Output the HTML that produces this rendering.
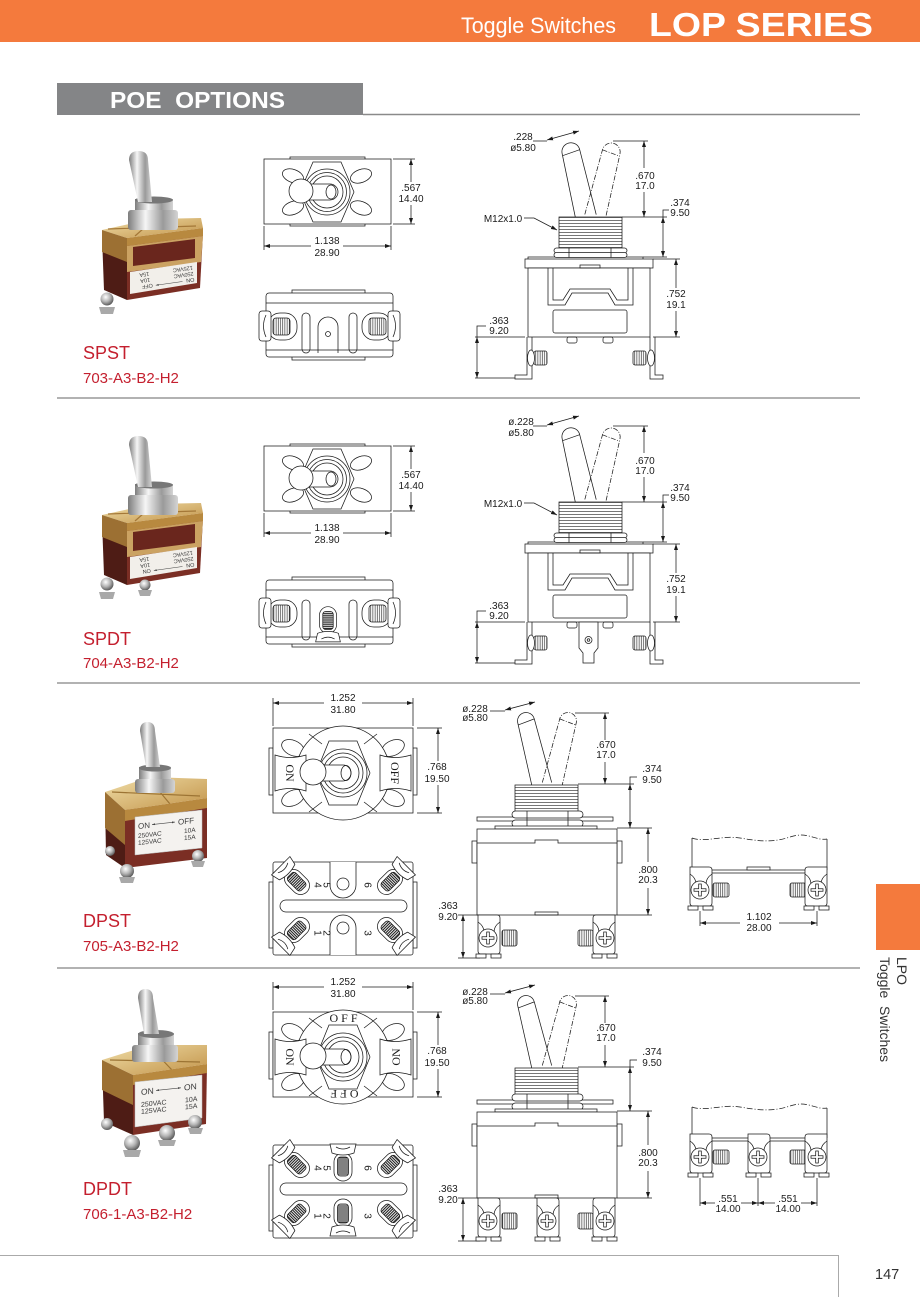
<!DOCTYPE html>
<html><head><meta charset="utf-8"><title>LOP Series - POE Options</title>
<style>
html,body{margin:0;padding:0;background:#fff;}
body{width:920px;height:1297px;overflow:hidden;}
svg{display:block;}
.d{font-family:"Liberation Sans",sans-serif;font-size:10px;fill:#1a1a1a;text-anchor:middle;}
.ln{stroke:#1a1a1a;stroke-width:0.75;fill:none;}
.lbl{font-family:"Liberation Sans",sans-serif;fill:#c41f2e;}
.sr{font-family:"Liberation Serif",serif;font-size:12px;fill:#1a1a1a;text-anchor:middle;}
.pl{font-family:"Liberation Sans",sans-serif;fill:#3a3a3a;}
</style></head><body>
<svg width="920" height="1297" viewBox="0 0 920 1297" xmlns="http://www.w3.org/2000/svg">
<defs>
<marker id="ar" viewBox="0 0 6 4" refX="6" refY="2" markerWidth="6" markerHeight="4" markerUnits="userSpaceOnUse" orient="auto-start-reverse"><path d="M0,0L6,2L0,4z" fill="#1a1a1a" stroke="none"/></marker>
<marker id="ar2" viewBox="0 0 6 4" refX="6" refY="2" markerWidth="3" markerHeight="2" markerUnits="userSpaceOnUse" orient="auto-start-reverse"><path d="M0,0L6,2L0,4z" fill="#444" stroke="none"/></marker>
<linearGradient id="sil" x1="0" x2="1" y1="0" y2="0"><stop offset="0" stop-color="#7d7d7d"/><stop offset="0.35" stop-color="#f6f6f6"/><stop offset="0.7" stop-color="#9a9a9a"/><stop offset="1" stop-color="#d4d4d4"/></linearGradient>
<radialGradient id="ball" cx="0.4" cy="0.35" r="0.7"><stop offset="0" stop-color="#fff"/><stop offset="0.5" stop-color="#b5b5b5"/><stop offset="1" stop-color="#4d4d4d"/></radialGradient>
<linearGradient id="gold" x1="0" y1="0" x2="1" y2="1"><stop offset="0" stop-color="#f0dea8"/><stop offset="1" stop-color="#c29349"/></linearGradient>
<pattern id="hl" width="8" height="3" patternUnits="userSpaceOnUse"><rect width="8" height="3" fill="#fff"/><line x1="0" y1="1.5" x2="8" y2="1.5" stroke="#1a1a1a" stroke-width="0.6"/></pattern>
<pattern id="vl" width="2.2" height="8" patternUnits="userSpaceOnUse"><rect width="2.2" height="8" fill="#fff"/><line x1="1.1" y1="0" x2="1.1" y2="8" stroke="#1a1a1a" stroke-width="0.6"/></pattern>
<pattern id="th" width="6" height="2" patternUnits="userSpaceOnUse"><rect width="6" height="2" fill="#fff"/><line x1="0" y1="1" x2="6" y2="1" stroke="#1a1a1a" stroke-width="1.1"/></pattern>

<g id="st" stroke="#1a1a1a" stroke-width="0.75">
 <path d="M-10,-23H9Q12,-23 12,-20V13Q12,16 9,16H-7Q-10,16 -10,13Z" fill="#fff"/>
 <path d="M-12,16H-2V20H-12ZM3,16H13V20H3Z" fill="#fff"/>
 <path d="M-10,-16Q-4,-12 -4,-6M12,-16Q6,-12 6,-6" fill="none"/>
 <circle r="9" fill="#fff"/>
 <path d="M-1.3,-6H1.3V-1.3H6V1.3H1.3V6H-1.3V1.3H-6V-1.3H-1.3Z" fill="#fff"/>
</g>
<g id="bt" stroke="#1a1a1a" stroke-width="0.75">
 <rect x="-9" y="-14" width="18" height="28" rx="9" fill="#fff"/>
 <rect x="-5.5" y="-10" width="11" height="19" rx="3" fill="url(#th)"/>
 <path d="M-13,-23H13L11,-14Q0,-10 -11,-14Z" fill="#fff"/>
 <path d="M-7,-20Q0,-16 7,-20" fill="none"/>
</g>

<g id="spt" class="ln">
 <rect x="290" y="157" width="75" height="69" fill="#fff"/>
 <rect x="264" y="159" width="127" height="65" fill="#fff"/>
 <ellipse cx="293" cy="176" rx="11" ry="6.5" transform="rotate(20 293 176)" fill="#fff"/>
 <ellipse cx="361" cy="176" rx="11" ry="6.5" transform="rotate(-20 361 176)" fill="#fff"/>
 <ellipse cx="293" cy="208" rx="11" ry="6.5" transform="rotate(-20 293 208)" fill="#fff"/>
 <ellipse cx="361" cy="208" rx="11" ry="6.5" transform="rotate(20 361 208)" fill="#fff"/>
 <polygon points="300,192 313,162 341,162 354,192 341,222 313,222" fill="#fff"/>
 <circle cx="327" cy="192" r="23" fill="#fff"/>
 <circle cx="327" cy="192" r="19.5"/>
 <circle cx="327" cy="192" r="16"/>
 <rect x="300" y="184" width="38" height="16" rx="8" fill="#fff"/>
 <ellipse cx="331" cy="192" rx="5" ry="7"/>
 <circle cx="301" cy="191" r="12" fill="#fff"/>
 <path d="M393,159H415M393,224H415M264,226V250M391,226V250"/>
 <line x1="411" y1="159" x2="411" y2="182" marker-start="url(#ar)"/>
 <line x1="411" y1="205" x2="411" y2="224" marker-end="url(#ar)"/>
 <line x1="264" y1="246" x2="311" y2="246" marker-start="url(#ar)"/>
 <line x1="343" y1="246" x2="391" y2="246" marker-end="url(#ar)"/>
</g>
<g id="spb" class="ln">
 <rect x="292" y="290" width="73" height="70" fill="#fff"/>
 <rect x="266" y="293" width="127" height="64" rx="3" fill="#fff"/>
 <path d="M266,303H393M266,350H393"/>
 <rect x="268" y="313" width="29" height="27" rx="12" fill="#fff"/>
 <rect x="273" y="318" width="17" height="17" rx="3" fill="url(#vl)"/>
 <rect x="259" y="311" width="12" height="30" rx="3" fill="#fff"/>
 <path d="M266,315Q261,326 266,337"/>
 <rect x="362" y="313" width="29" height="27" rx="12" fill="#fff"/>
 <rect x="369" y="318" width="17" height="17" rx="3" fill="url(#vl)"/>
 <rect x="388" y="311" width="12" height="30" rx="3" fill="#fff"/>
 <path d="M393,315Q398,326 393,337"/>
 <rect x="302" y="313" width="8" height="40" rx="4"/>
 <rect x="349" y="313" width="8" height="40" rx="4"/>
</g>
<g id="sps" class="ln">
 <g transform="translate(586,217) rotate(-13)"><path d="M-10.5,0L-9,-67A9,9 0 0 1 9,-67L10.5,0"/><line x1="-9" y1="-65" x2="9" y2="-67"/></g>
 <g transform="translate(595,217) rotate(14)" stroke-dasharray="5,1.5,1,1.5"><path d="M-10.5,0L-9,-67A9,9 0 0 1 9,-67L10.5,0"/><line x1="-9" y1="-67" x2="9" y2="-65"/></g>
 <rect x="559" y="217" width="63" height="31" fill="url(#hl)"/>
 <rect x="528" y="257" width="115" height="3" fill="#fff"/>
 <rect x="554" y="248" width="73" height="5" rx="2.5" fill="#fff"/>
 <rect x="554" y="252.5" width="73" height="5" rx="2.5" fill="#fff"/>
 <path d="M569,248V257.5M611,248V257.5"/>
 <rect x="525" y="259" width="128" height="9" fill="#fff"/>
 <rect x="528" y="268" width="122" height="69" fill="#fff"/>
 <rect x="580" y="265" width="20" height="3"/>
 <path d="M548,268V305H565L572,293H608L615,305H633V268"/>
 <path d="M553,268V300H563L570,289H610L617,300H628V268"/>
 <rect x="553" y="310" width="74" height="23" rx="2"/>
 <rect x="567" y="337" width="10" height="6" rx="2"/>
 <rect x="603" y="337" width="10" height="6" rx="2"/>
 <path d="M527,337V375H515V379H532V337"/>
 <path d="M655,337V375H663V379H650V337"/>
 <rect x="534" y="351" width="13" height="14" rx="2" fill="url(#vl)"/>
 <rect x="633" y="351" width="13" height="14" rx="2" fill="url(#vl)"/>
 <ellipse cx="531" cy="358" rx="3.5" ry="8" fill="#fff"/>
 <ellipse cx="651" cy="358" rx="3.5" ry="8" fill="#fff"/>
 <path d="M533,141H547"/>
 <line x1="547" y1="140" x2="579" y2="131" marker-start="url(#ar)" marker-end="url(#ar)"/>
 <path d="M613,141H648"/>
 <line x1="644" y1="141" x2="644" y2="168" marker-start="url(#ar)"/>
 <line x1="644" y1="192" x2="644" y2="217" marker-end="url(#ar)"/>
 <path d="M622,217H667M669,210H663V217M643,257H667M653,259H680M653,337H680"/>
 <line x1="663" y1="217" x2="663" y2="257" marker-start="url(#ar)" marker-end="url(#ar)"/>
 <line x1="676" y1="259" x2="676" y2="288" marker-start="url(#ar)"/>
 <line x1="676" y1="311" x2="676" y2="337" marker-end="url(#ar)"/>
 <path d="M475,337H525M475,378H515M486,326H477V337"/>
 <line x1="477" y1="337" x2="477" y2="378" marker-start="url(#ar)" marker-end="url(#ar)"/>
 <polyline points="524,218 534,218 557,230" marker-end="url(#ar)"/>
</g>

<g id="dpt" class="ln">
 <rect x="269" y="748" width="4" height="47" fill="#fff"/>
 <rect x="413" y="748" width="4" height="47" fill="#fff"/>
 <rect x="273" y="728" width="140" height="85" fill="#fff"/>
 <ellipse cx="293" cy="748" rx="12" ry="7.5" transform="rotate(25 293 748)" fill="#fff"/>
 <ellipse cx="393" cy="748" rx="12" ry="7.5" transform="rotate(-25 393 748)" fill="#fff"/>
 <ellipse cx="293" cy="798" rx="12" ry="7.5" transform="rotate(-25 293 798)" fill="#fff"/>
 <ellipse cx="393" cy="798" rx="12" ry="7.5" transform="rotate(25 393 798)" fill="#fff"/>
 <circle cx="343" cy="773" r="47" fill="#fff"/>
 <path d="M322,744L309,734M364,744L377,734M322,802L309,812M364,802L377,812"/>
 <path d="M275,755Q290,760 306,755V791Q290,786 275,791Z" fill="#fff"/>
 <path d="M380,755Q395,760 411,755V791Q395,786 380,791Z" fill="#fff"/>
 <polygon points="316,773 329,741 357,741 370,773 357,805 329,805" fill="#fff"/>
 <circle cx="343" cy="773" r="24"/>
 <circle cx="343" cy="773" r="20"/>
 <circle cx="343" cy="773" r="16"/>
 <rect x="313" y="765" width="38" height="16" rx="8" fill="#fff"/>
 <ellipse cx="346" cy="773" rx="5" ry="7.5"/>
 <circle cx="313" cy="772" r="13" fill="#fff"/>
 <path d="M273,698V726M413,698V726M417,728H442M417,813H442"/>
 <line x1="273" y1="703" x2="324" y2="703" marker-start="url(#ar)"/>
 <line x1="362" y1="703" x2="413" y2="703" marker-end="url(#ar)"/>
 <line x1="438" y1="728" x2="438" y2="761" marker-start="url(#ar)"/>
 <line x1="438" y1="785" x2="438" y2="813" marker-end="url(#ar)"/>
</g>
<g id="dpb" class="ln">
 <rect x="269" y="882" width="4" height="66" fill="#fff"/>
 <rect x="413" y="882" width="4" height="66" fill="#fff"/>
 <rect x="273" y="862" width="140" height="93" rx="2" fill="#fff"/>
 <rect x="280" y="900" width="127" height="12" rx="6"/>
</g>
<g id="dps" class="ln">
 <g transform="translate(542,785) rotate(-14)"><path d="M-10,0L-8.5,-66A8.5,8.5 0 0 1 8.5,-66L10,0"/><line x1="-8.5" y1="-64" x2="8.5" y2="-66"/></g>
 <g transform="translate(552,785) rotate(14)" stroke-dasharray="5,1.5,1,1.5"><path d="M-10,0L-8.5,-66A8.5,8.5 0 0 1 8.5,-66L10,0"/><line x1="-8.5" y1="-66" x2="8.5" y2="-64"/></g>
 <rect x="515" y="785" width="63" height="27" fill="url(#hl)"/>
 <rect x="477" y="817" width="136" height="4" fill="#fff"/>
 <rect x="512" y="811" width="71" height="7" rx="3.5" fill="#fff"/>
 <rect x="512" y="820" width="71" height="7" rx="3.5" fill="#fff"/>
 <path d="M527,811V827M568,811V827"/>
 <rect x="495" y="826" width="102" height="3" fill="#fff"/>
 <rect x="472" y="841" width="5" height="22" fill="#fff"/>
 <rect x="617" y="841" width="5" height="22" fill="#fff"/>
 <rect x="477" y="829" width="140" height="86" fill="#fff"/>
 <path d="M477,843H535V840H558V843H617"/>
 <rect x="535" y="912" width="23" height="3"/>
 <rect x="502" y="930" width="15" height="16" rx="2" fill="url(#vl)"/>
 <rect x="578" y="930" width="15" height="16" rx="2" fill="url(#vl)"/>
 <path d="M490,711H505"/>
 <line x1="505" y1="710" x2="535" y2="702" marker-start="url(#ar)" marker-end="url(#ar)"/>
 <path d="M575,713H609"/>
 <line x1="605" y1="713" x2="605" y2="740" marker-start="url(#ar)"/>
 <line x1="605" y1="762" x2="605" y2="784" marker-end="url(#ar)"/>
 <path d="M578,784H634M637,777H630V784M617,828H652M617,915H652M458,915H480M458,958H480"/>
 <line x1="630" y1="784" x2="630" y2="828" marker-start="url(#ar)" marker-end="url(#ar)"/>
 <line x1="648" y1="828" x2="648" y2="862" marker-start="url(#ar)"/>
 <line x1="648" y1="888" x2="648" y2="915" marker-end="url(#ar)"/>
 <line x1="463" y1="915" x2="463" y2="958" marker-start="url(#ar)" marker-end="url(#ar)"/>
</g>

<g id="spp">
 <path d="M186,276h14v12h-14z" fill="#9a9a9a"/>
 <polygon points="102,236 127,246 127,300 104,290" fill="#4e1c15"/>
 <polygon points="127,244 203,233 200,288 127,300" fill="#7b2e24"/>
 <polygon points="102,230 152,219 201,218 203,228 127,238" fill="url(#gold)"/>
 <path d="M108,229L196,226M152,221L135,236" stroke="#a47838" stroke-width="1.2" fill="none"/>
 <polygon points="127,238 203,228 203,236 127,246" fill="#b8893f"/>
 <polygon points="102,230 127,238 127,262 102,252" fill="#9c7033"/>
 <polygon points="127,246 203,236 201,262 127,272" fill="#cba262"/>
 <polygon points="133,247 195,239 195,258 133,266" fill="#6a261d"/>
 <polygon points="130,272 197,262 197,283 130,294" fill="#f2efea"/>
 <rect x="135" y="199" width="38" height="13" fill="url(#sil)"/>
 <rect x="128" y="210" width="50" height="20" rx="3" fill="url(#sil)"/>
 <ellipse cx="154" cy="200" rx="19" ry="3.5" fill="#777"/>
 <path d="M129,160Q129,151 138.5,151Q148,151 148,160L152,202L138,202Z" fill="url(#sil)"/>
 <circle cx="107" cy="299" r="6.5" fill="url(#ball)"/>
 <path d="M99,307h16l-2,7h-12z" fill="#a9a9a9"/>
</g>
</defs>

<rect x="0" y="0" width="920" height="42" fill="#f47a3d"/>
<text x="461" y="33" font-family="Liberation Sans, sans-serif" font-size="22" fill="#fff" textLength="155" lengthAdjust="spacingAndGlyphs">Toggle Switches</text>
<text x="649" y="36" font-family="Liberation Sans, sans-serif" font-weight="bold" font-size="33" fill="#fff" textLength="224" lengthAdjust="spacingAndGlyphs">LOP SERIES</text>

<rect x="57" y="83" width="306" height="32" fill="#848587"/>
<line x1="363" y1="114.5" x2="860" y2="114.5" stroke="#8a8a8a" stroke-width="1.5"/>
<text x="110" y="108" font-family="Liberation Sans, sans-serif" font-weight="bold" font-size="23.5" fill="#fff" textLength="175" lengthAdjust="spacingAndGlyphs" xml:space="preserve">POE  OPTIONS</text>

<path d="M57,398H860M57,683H860M57,968H860" stroke="#999" stroke-width="1.5" fill="none"/>
<path d="M0,1255.5H838.5V1297" stroke="#aaa" stroke-width="1" fill="none"/>

<rect x="876" y="884" width="44" height="66" fill="#f47a3d"/>
<text transform="translate(897,957) rotate(90)" font-family="Liberation Sans, sans-serif" font-size="14" fill="#333">LPO</text>
<text transform="translate(880,957) rotate(90)" font-family="Liberation Sans, sans-serif" font-size="14" fill="#333" xml:space="preserve">Toggle  Switches</text>
<text x="875" y="1279" font-family="Liberation Sans, sans-serif" font-size="14.5" fill="#333">147</text>

<g class="lbl">
<text x="83" y="359" font-size="18">SPST</text><text x="83" y="383" font-size="15">703-A3-B2-H2</text>
<text x="83" y="645" font-size="18">SPDT</text><text x="83" y="668" font-size="15">704-A3-B2-H2</text>
<text x="83" y="927" font-size="18">DPST</text><text x="83" y="951" font-size="15">705-A3-B2-H2</text>
<text x="83" y="1195" font-size="18">DPDT</text><text x="83" y="1219" font-size="15">706-1-A3-B2-H2</text>
</g>

<use href="#spp"/>
<g transform="translate(164,279) rotate(172)" class="pl" font-size="5.5">
 <text x="-30" y="-3">ON</text><text x="12" y="-3">OFF</text>
 <line x1="-18" y1="-5" x2="9" y2="-5" stroke="#444" stroke-width="0.5" marker-end="url(#ar2)"/>
 <text x="-30" y="3">250VAC</text><text x="14" y="3">10A</text>
 <text x="-30" y="9">125VAC</text><text x="14" y="9">15A</text>
</g>

<use href="#spt"/>
<use href="#spb"/>
<g class="ln"><path d="M318,353V327A10,10 0 0 1 338,327V353"/><circle cx="328" cy="334" r="2.5"/></g>
<use href="#sps"/>
<g class="d">
<text x="411" y="191">.567</text><text x="411" y="202">14.40</text>
<text x="327" y="244">1.138</text><text x="327" y="256">28.90</text>
<text x="523" y="140">.228</text><text x="523" y="151">ø5.80</text>
<text x="645" y="179">.670</text><text x="645" y="189">17.0</text>
<text x="680" y="206">.374</text><text x="680" y="216">9.50</text>
<text x="676" y="297">.752</text><text x="676" y="308">19.1</text>
<text x="499" y="324">.363</text><text x="499" y="334">9.20</text>
<text x="503" y="222">M12x1.0</text>
</g>

<use href="#spp" transform="translate(0,285)"/>
<circle cx="145" cy="585" r="5.5" fill="url(#ball)"/>
<path d="M138,590h14l-2,6h-10z" fill="#a9a9a9"/>
<g transform="translate(164,564) rotate(172)" class="pl" font-size="5.5">
 <text x="-30" y="-3">ON</text><text x="14" y="-3">ON</text>
 <line x1="-18" y1="-5" x2="11" y2="-5" stroke="#444" stroke-width="0.5" marker-end="url(#ar2)"/>
 <text x="-30" y="3">250VAC</text><text x="14" y="3">10A</text>
 <text x="-30" y="9">125VAC</text><text x="14" y="9">15A</text>
</g>

<use href="#spt" transform="translate(0,287)"/>
<use href="#spb" transform="translate(0,287)"/>
<use href="#bt" transform="translate(328,620) rotate(180) scale(0.95)"/>
<use href="#sps" transform="translate(0,285)"/>
<g class="ln">
 <path d="M579,622V648L583,653V663H594V653L598,648V622Z" fill="#fff"/>
 <circle cx="588.5" cy="640" r="3.5"/><circle cx="588.5" cy="640" r="1.3"/>
</g>
<g class="d">
<text x="411" y="478">.567</text><text x="411" y="489">14.40</text>
<text x="327" y="531">1.138</text><text x="327" y="543">28.90</text>
<text x="521" y="425">ø.228</text><text x="521" y="436">ø5.80</text>
<text x="645" y="464">.670</text><text x="645" y="474">17.0</text>
<text x="680" y="491">.374</text><text x="680" y="501">9.50</text>
<text x="676" y="582">.752</text><text x="676" y="593">19.1</text>
<text x="499" y="609">.363</text><text x="499" y="619">9.20</text>
<text x="503" y="507">M12x1.0</text>
</g>

<g>
 <polygon points="105,800 125,810 125,868 106,855" fill="#4e1c15"/>
 <polygon points="125,810 207,799 207,858 125,868" fill="#7b2e24"/>
 <polygon points="105,792 150,777 207,779 207,798 125,810" fill="url(#gold)"/>
 <path d="M112,792L200,796M150,780L170,804" stroke="#9c7434" stroke-width="1.2" fill="none"/>
 <polygon points="125,810 207,798 207,808 125,821" fill="#b8893f"/>
 <polygon points="105,792 125,810 125,845 105,828" fill="#9c7033"/>
 <polygon points="135,817 202,810 202,848 135,855" fill="#f4f2ef" stroke="#bbb" stroke-width="0.5"/>
 <rect x="139" y="767" width="32" height="14" fill="url(#sil)"/>
 <rect x="135" y="779" width="40" height="14" rx="3" fill="url(#sil)"/>
 <ellipse cx="155" cy="768" rx="16" ry="3.5" fill="#777"/>
 <path d="M140,731Q140,722 147.5,722Q155,722 155,731L160,767L146,767Z" fill="url(#sil)"/>
 <circle cx="110" cy="851" r="5" fill="url(#ball)"/>
 <circle cx="198" cy="856" r="6" fill="url(#ball)"/>
 <circle cx="127" cy="871" r="7" fill="url(#ball)"/>
 <path d="M119,877h16l-2,6h-12zM191,861h14l-2,6h-10z" fill="#a9a9a9"/>
</g>
<g transform="translate(138,829) skewY(-6)" class="pl">
 <text x="0" y="0" font-size="8">ON</text><text x="40" y="0" font-size="8">OFF</text>
 <line x1="14" y1="-3" x2="37" y2="-3" stroke="#444" stroke-width="0.6" marker-start="url(#ar2)" marker-end="url(#ar2)"/>
 <text x="0" y="9" font-size="6.5">250VAC</text><text x="46" y="9" font-size="6.5">10A</text>
 <text x="0" y="16" font-size="6.5">125VAC</text><text x="46" y="16" font-size="6.5">15A</text>
</g>

<use href="#dpt"/>
<text class="sr" transform="translate(290,773) rotate(90)" y="4">ON</text>
<text class="sr" transform="translate(395,773) rotate(90)" y="4">OFF</text>
<use href="#dpb"/>
<g class="ln">
 <path d="M330,862V885A13,13 0 0 0 356,885V862" fill="#fff"/>
 <circle cx="343" cy="884" r="6"/>
 <path d="M330,955V928A13,13 0 0 1 356,928V955" fill="#fff"/>
 <circle cx="343" cy="928" r="6"/>
</g>
<use href="#bt" transform="translate(297,882) rotate(-45)"/>
<use href="#bt" transform="translate(390,882) rotate(45)"/>
<use href="#bt" transform="translate(297,930) rotate(-135)"/>
<use href="#bt" transform="translate(390,930) rotate(135)"/>
<g class="d">
 <text transform="translate(318,885) rotate(90)" y="3.5">4</text>
 <text transform="translate(327,885) rotate(90)" y="3.5">5</text>
 <text transform="translate(368,885) rotate(90)" y="3.5">6</text>
 <text transform="translate(318,933) rotate(90)" y="3.5">1</text>
 <text transform="translate(327,933) rotate(90)" y="3.5">2</text>
 <text transform="translate(368,933) rotate(90)" y="3.5">3</text>
</g>
<use href="#dps"/>
<use href="#st" transform="translate(488,938)"/>
<use href="#st" transform="translate(605,938) scale(-1,1)"/>
<g class="ln">
 <path d="M692,870V838M827,870V839"/>
 <path d="M692,838C705,843 722,835 740,838S772,843 790,837S815,841 827,839" stroke-dasharray="6,2,1,2"/>
 <path d="M692,870H827M708,873H812"/>
 <rect x="747" y="867" width="23" height="3" fill="#fff"/>
 <rect x="713" y="883" width="16" height="14" rx="2" fill="url(#vl)"/>
 <rect x="790" y="883" width="16" height="14" rx="2" fill="url(#vl)"/>
</g>
<use href="#st" transform="translate(700,890)"/>
<use href="#st" transform="translate(817,890) scale(-1,1)"/>
<g class="ln">
 <path d="M700,911V926M817,911V926"/>
 <line x1="700" y1="923" x2="740" y2="923" marker-start="url(#ar)"/>
 <line x1="779" y1="923" x2="817" y2="923" marker-end="url(#ar)"/>
</g>
<g class="d">
<text x="343" y="701">1.252</text><text x="343" y="713">31.80</text>
<text x="437" y="770">.768</text><text x="437" y="782">19.50</text>
<text x="475" y="712">ø.228</text><text x="475" y="721">ø5.80</text>
<text x="606" y="748">.670</text><text x="606" y="758">17.0</text>
<text x="652" y="772">.374</text><text x="652" y="783">9.50</text>
<text x="648" y="873">.800</text><text x="648" y="883">20.3</text>
<text x="448" y="909">.363</text><text x="448" y="920">9.20</text>
<text x="759" y="920">1.102</text><text x="759" y="931">28.00</text>
</g>

<g>
 <polygon points="102,1062 133,1077 133,1135 104,1122" fill="#4e1c15"/>
 <polygon points="133,1077 207,1065 206,1124 133,1135" fill="#7b2e24"/>
 <polygon points="102,1060 150,1045 207,1045 207,1064 133,1075" fill="url(#gold)"/>
 <path d="M110,1060L200,1062M150,1047L172,1070" stroke="#9c7434" stroke-width="1.2" fill="none"/>
 <polygon points="133,1075 207,1064 207,1073 133,1085" fill="#b8893f"/>
 <polygon points="102,1060 133,1075 133,1105 102,1090" fill="#9c7033"/>
 <polygon points="135,1082 202,1075 202,1118 135,1127" fill="#f4f2ef" stroke="#bbb" stroke-width="0.5"/>
 <rect x="138" y="1033" width="36" height="14" fill="url(#sil)"/>
 <rect x="132" y="1045" width="46" height="17" rx="3" fill="url(#sil)"/>
 <ellipse cx="156" cy="1034" rx="18" ry="4" fill="#777"/>
 <path d="M138,998Q138,989 145.5,989Q153,989 153,998L159,1034L144,1034Z" fill="url(#sil)"/>
 <circle cx="107" cy="1124" r="6" fill="url(#ball)"/>
 <circle cx="195" cy="1122" r="7" fill="url(#ball)"/>
 <circle cx="167" cy="1133" r="8" fill="url(#ball)"/>
 <circle cx="132" cy="1143" r="8" fill="url(#ball)"/>
 <path d="M123,1150h18l-2,7h-14zM158,1140h18l-2,6h-14zM188,1128h15l-2,6h-11z" fill="#a9a9a9"/>
</g>
<g transform="translate(141,1095) skewY(-6)" class="pl">
 <text x="0" y="0" font-size="8.5">ON</text><text x="43" y="0" font-size="8.5">ON</text>
 <line x1="15" y1="-3" x2="40" y2="-3" stroke="#444" stroke-width="0.6" marker-start="url(#ar2)" marker-end="url(#ar2)"/>
 <text x="0" y="12" font-size="7">250VAC</text><text x="44" y="12" font-size="7">10A</text>
 <text x="0" y="19" font-size="7">125VAC</text><text x="44" y="19" font-size="7">15A</text>
</g>

<use href="#dpt" transform="translate(0,284)"/>
<text class="sr" transform="translate(290,1057) rotate(90)" y="4">ON</text>
<text class="sr" transform="translate(396,1057) rotate(-90)" y="4">ON</text>
<text class="sr" x="345" y="1022" letter-spacing="3">OFF</text>
<text class="sr" transform="translate(343,1090) rotate(180)" letter-spacing="3">OFF</text>
<use href="#dpb" transform="translate(0,283)"/>
<use href="#bt" transform="translate(297,1165) rotate(-45)"/>
<use href="#bt" transform="translate(390,1165) rotate(45)"/>
<use href="#bt" transform="translate(297,1213) rotate(-135)"/>
<use href="#bt" transform="translate(390,1213) rotate(135)"/>
<use href="#bt" transform="translate(343,1167)"/>
<use href="#bt" transform="translate(343,1213) rotate(180)"/>
<g class="d">
 <text transform="translate(318,1168) rotate(90)" y="3.5">4</text>
 <text transform="translate(327,1168) rotate(90)" y="3.5">5</text>
 <text transform="translate(368,1168) rotate(90)" y="3.5">6</text>
 <text transform="translate(318,1216) rotate(90)" y="3.5">1</text>
 <text transform="translate(327,1216) rotate(90)" y="3.5">2</text>
 <text transform="translate(368,1216) rotate(90)" y="3.5">3</text>
</g>
<use href="#dps" transform="translate(0,283)"/>
<use href="#st" transform="translate(488,1221)"/>
<use href="#st" transform="translate(547,1221)"/>
<use href="#st" transform="translate(605,1221) scale(-1,1)"/>
<g class="ln">
 <path d="M692,1138V1107M827,1138V1108"/>
 <path d="M692,1107C705,1112 722,1104 740,1107S772,1112 790,1106S815,1110 827,1108" stroke-dasharray="6,2,1,2"/>
 <path d="M692,1138H827M708,1141H812"/>
 <rect x="713" y="1150" width="16" height="14" rx="2" fill="url(#vl)"/>
 <rect x="790" y="1150" width="16" height="14" rx="2" fill="url(#vl)"/>
</g>
<use href="#st" transform="translate(700,1157)"/>
<use href="#st" transform="translate(758,1157)"/>
<use href="#st" transform="translate(817,1157) scale(-1,1)"/>
<g class="ln">
 <path d="M700,1178V1206M758,1178V1206M817,1178V1206"/>
 <line x1="700" y1="1203" x2="715" y2="1203" marker-start="url(#ar)"/>
 <line x1="741" y1="1203" x2="758" y2="1203" marker-end="url(#ar)"/>
 <line x1="758" y1="1203" x2="775" y2="1203" marker-start="url(#ar)"/>
 <line x1="801" y1="1203" x2="817" y2="1203" marker-end="url(#ar)"/>
</g>
<g class="d">
<text x="343" y="985">1.252</text><text x="343" y="997">31.80</text>
<text x="437" y="1054">.768</text><text x="437" y="1066">19.50</text>
<text x="475" y="995">ø.228</text><text x="475" y="1004">ø5.80</text>
<text x="606" y="1031">.670</text><text x="606" y="1041">17.0</text>
<text x="652" y="1055">.374</text><text x="652" y="1066">9.50</text>
<text x="648" y="1156">.800</text><text x="648" y="1166">20.3</text>
<text x="448" y="1192">.363</text><text x="448" y="1203">9.20</text>
<text x="728" y="1202">.551</text><text x="728" y="1212">14.00</text>
<text x="788" y="1202">.551</text><text x="788" y="1212">14.00</text>
</g>
</svg>
</body></html>
